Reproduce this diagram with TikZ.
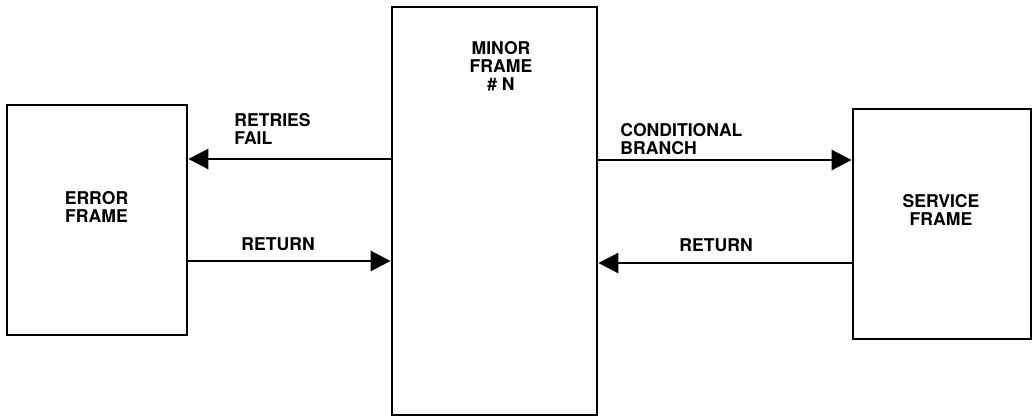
\documentclass[tikz,border=0pt]{standalone}
\usepackage{fontspec}
\setmainfont{TeX Gyre Heros}
\usetikzlibrary{arrows.meta, positioning, calc}
\tikzset{
  frm/.style  = {rectangle, draw=black, fill=white, line width=1.4pt,
                 inner sep=0pt},
  ftxt/.style = {align=center, inner sep=0pt, font=\fontsize{8.8}{9}\selectfont\bfseries},
  lbl/.style  = {align=left, inner sep=0pt, anchor=north west,
                 font=\fontsize{8.8}{9}\selectfont\bfseries},
  arr/.style  = {-{Triangle[length=10pt, width=10pt]}, line width=1.4pt},
}

\begin{document}
\begin{tikzpicture}[x=0.5pt, y=-0.5pt]
\useasboundingbox (0,0) rectangle (1032,418);

% ---- Frames -----------------------------------------------------------------
\node[frm, minimum width=90pt,   minimum height=115pt] (err) at (97,220)    {};
\node[frm, minimum width=102.5pt, minimum height=204pt] (mnr) at (494.5,211) {};
\node[frm, minimum width=89pt,   minimum height=115pt] (svc) at (942,224)   {};

\node[ftxt] (errtxt) at (96.5,206.5) {ERROR\\FRAME};
\node[ftxt] (mnrtxt) at (501,66.5)   {MINOR\\FRAME\\\# N};
\node[ftxt] (svctxt) at (941,209.5)  {SERVICE\\FRAME};

% ---- Arrow levels -----------------------------------------------------------
\coordinate (lhi) at (0,159);
\coordinate (llo) at (0,261);
\coordinate (rhi) at (0,160);
\coordinate (rlo) at (0,263);

% ---- Arrows: minor <-> error ------------------------------------------------
\draw[arr] (mnr.west |- lhi) -- (err.east |- lhi);
\draw[arr] (err.east |- llo) -- (mnr.west |- llo);

\node[lbl] (rf)  at (234,113) {RETRIES\\FAIL};
\node[lbl] (rtl) at (241,237) {RETURN};

% ---- Arrows: minor <-> service ----------------------------------------------
\draw[arr] (mnr.east |- rhi) -- (svc.west |- rhi);
\draw[arr] (svc.west |- rlo) -- (mnr.east |- rlo);

\node[lbl] (cb)  at (620,123) {CONDITIONAL\\BRANCH};
\node[lbl] (rtr) at (679,238) {RETURN};

\end{tikzpicture}
\end{document}
